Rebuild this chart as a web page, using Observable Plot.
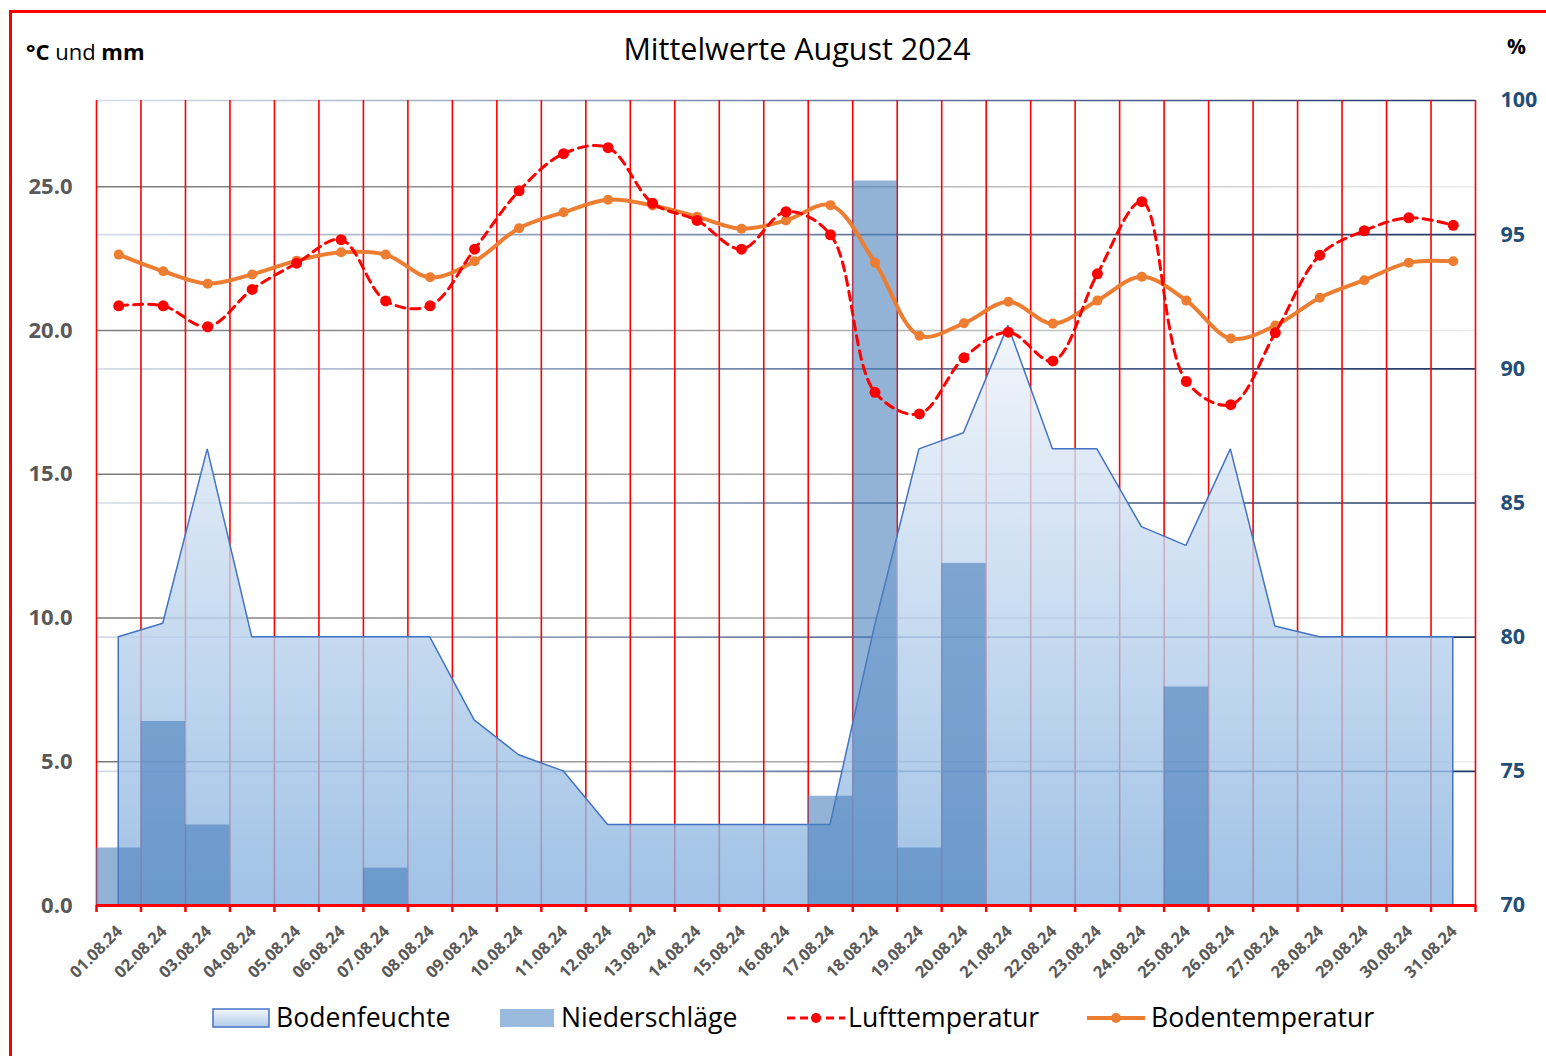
<!DOCTYPE html>
<html>
<head>
<meta charset="utf-8">
<script src="https://cdn.jsdelivr.net/npm/d3@7"></script>
<script src="https://cdn.jsdelivr.net/npm/@observablehq/plot@0.6"></script>
<style>
  html, body { margin: 0; padding: 0; background: #fff; overflow: hidden; }
  #wrap { position: relative; width: 1546px; height: 1056px; overflow: hidden; font-family: "Open Sans", sans-serif; }
  #border { position: absolute; left: 9px; top: 10px; width: 1600px; height: 1100px; border: 3px solid #ff0000; box-sizing: border-box; }
  .hdr { position: absolute; white-space: nowrap; color: #000; line-height: 1; }
  #unitL { left: 26px; top: 40px; font-size: 22px; }
  #title { left: 0; width: 1594px; text-align: center; top: 33px; font-size: 30.5px; }
  #unitR { left: 1507px; top: 36px; font-size: 21px; font-weight: bold; }
  #chart { position: absolute; left: 0; top: 80px; }
  .leg { position: absolute; top: 1000px; font-size: 26.6px; line-height: 34px; white-space: nowrap; color: #000; }
  .sw { position: absolute; }
</style>
</head>
<body>
<div id="wrap">
  <div id="border"></div>
  <div class="hdr" id="unitL"><b>°C</b> und <b>mm</b></div>
  <div class="hdr" id="title">Mittelwerte August 2024</div>
  <div class="hdr" id="unitR">%</div>
  <div id="chart"></div>

  <svg class="sw" style="left:211px;top:1007px" width="62" height="24">
    <defs><linearGradient id="lgA" x1="0" y1="0" x2="0" y2="1"><stop offset="0" stop-color="#f2f6fb"/><stop offset="1" stop-color="#b3cce9"/></linearGradient></defs>
    <rect x="2" y="2" width="56" height="18" fill="url(#lgA)" stroke="#4472c4" stroke-width="1.5"/>
  </svg>
  <div class="leg" style="left:276px">Bodenfeuchte</div>

  <svg class="sw" style="left:498px;top:1007px" width="60" height="24">
    <rect x="2" y="2" width="54" height="18" fill="#9bbbde"/>
  </svg>
  <div class="leg" style="left:561px">Niederschläge</div>

  <svg class="sw" style="left:785px;top:1006px" width="62" height="24">
    <line x1="2" y1="12" x2="60" y2="12" stroke="#ff0000" stroke-width="3" stroke-dasharray="8,5"/>
    <circle cx="31" cy="12" r="5" fill="#ff0000"/>
  </svg>
  <div class="leg" style="left:848px">Lufttemperatur</div>

  <svg class="sw" style="left:1085px;top:1006px" width="62" height="24">
    <line x1="2" y1="12" x2="60" y2="12" stroke="#ed7d31" stroke-width="4"/>
    <circle cx="31" cy="12" r="5" fill="#ed7d31"/>
  </svg>
  <div class="leg" style="left:1151px">Bodentemperatur</div>
</div>

<script>
// ---------------- data ----------------
const dayLabels = ["01.08.24","02.08.24","03.08.24","04.08.24","05.08.24","06.08.24","07.08.24","08.08.24",
  "09.08.24","10.08.24","11.08.24","12.08.24","13.08.24","14.08.24","15.08.24","16.08.24","17.08.24",
  "18.08.24","19.08.24","20.08.24","21.08.24","22.08.24","23.08.24","24.08.24","25.08.24","26.08.24",
  "27.08.24","28.08.24","29.08.24","30.08.24","31.08.24"];
const dayNumbers = [1,2,3,4,5,6,7,8,9,10,11,12,13,14,15,16,17,18,19,20,21,22,23,24,25,26,27,28,29,30,31];

// Lufttemperatur (°C)
const lufttemperatur = [20.86,20.86,20.13,21.43,22.34,23.16,21.03,20.86,22.83,24.86,26.15,26.36,24.43,23.83,22.83,
  24.13,23.33,17.85,17.10,19.05,19.94,18.94,21.97,24.48,18.23,17.42,19.92,22.62,23.47,23.92,23.66];
// Bodentemperatur (°C)
const bodentemperatur = [22.64,22.06,21.63,21.95,22.43,22.72,22.64,21.85,22.41,23.56,24.11,24.55,24.35,23.96,23.54,
  23.83,24.36,22.36,19.82,20.25,21.00,20.24,21.04,21.87,21.04,19.72,20.17,21.14,21.75,22.36,22.41];
// Niederschläge (mm)
const niederschlaege = [2.0,6.4,2.8,0,0,0,1.3,0,0,0,0,0,0,0,0,0,3.8,25.2,2.0,11.9,0,0,0,0,7.6,0,0,0,0,0,0];
// Bodenfeuchte (%)
const bodenfeuchte = [80.0,80.5,87.0,80.0,80.0,80.0,80.0,80.0,76.9,75.6,75.0,73.0,73.0,73.0,73.0,73.0,73.0,
  80.4,87.0,87.6,91.6,87.0,87.0,84.1,83.4,87.0,80.4,80.0,80.0,80.0,80.0];

const leftTicks = [0, 5, 10, 15, 20, 25];
const rightTicks = [70, 75, 80, 85, 90, 95, 100];
const dayBoundaries = [0.5,1.5,2.5,3.5,4.5,5.5,6.5,7.5,8.5,9.5,10.5,11.5,12.5,13.5,14.5,15.5,16.5,17.5,18.5,
  19.5,20.5,21.5,22.5,23.5,24.5,25.5,26.5,27.5,28.5,29.5,30.5,31.5];

// ---------------- build ----------------
const leftDomain = [0, 28];
const rightDomain = [70, 100];
const toLeft = h => (h - rightDomain[0]) / (rightDomain[1] - rightDomain[0]) * (leftDomain[1] - leftDomain[0]) + leftDomain[0];

const rows = dayNumbers.map((d, i) => ({
  day: d, label: dayLabels[i],
  luft: lufttemperatur[i], boden: bodentemperatur[i],
  rain: niederschlaege[i], feuchte: bodenfeuchte[i]
}));

const W = 1546, H = 915, mL = 96, mR = 71, mT = 20, mB = 90;

const chart = Plot.plot({
  width: W, height: H,
  marginLeft: mL, marginRight: mR, marginTop: mT, marginBottom: mB,
  x: { domain: [0.5, 31.5], axis: null },
  y: { domain: leftDomain, axis: null },
  style: { fontFamily: "Open Sans, sans-serif", background: "transparent", overflow: "visible" },
  marks: [
    // gridlines
    Plot.ruleY(leftTicks.filter(v => v > 0), { stroke: "url(#gradL)", strokeWidth: 1.6 }),
    Plot.ruleY(rightTicks.filter(v => v > 70).map(toLeft), { stroke: "url(#gradR)", strokeWidth: 1.6 }),
    // red day separators
    Plot.ruleX(dayBoundaries, { stroke: "#ff0000", strokeWidth: 1.6 }),
    // Bodenfeuchte area
    Plot.areaY(rows, { x: "day", y1: 0, y2: d => toLeft(d.feuchte), fill: "url(#gradA)", fillOpacity: 0.8,
      stroke: "#4472c4", strokeWidth: 1.5, strokeLinejoin: "miter" }),
    // Niederschläge bars
    Plot.rectY(rows.filter(d => d.rain > 0), { x1: d => d.day - 0.5, x2: d => d.day + 0.5, y: "rain",
      fill: "#4a7ebb", fillOpacity: 0.6 }),
    // bottom axis line + ticks
    Plot.ruleY([0], { stroke: "#ff0000", strokeWidth: 3 }),
    Plot.axisX({ ticks: dayBoundaries, tickSize: 7, tickFormat: () => "", label: null, stroke: "#ff0000", strokeWidth: 2.5 }),
    // Bodentemperatur
    Plot.line(rows, { x: "day", y: "boden", stroke: "#ed7d31", strokeWidth: 4, curve: "catmull-rom" }),
    Plot.dot(rows, { x: "day", y: "boden", fill: "#ed7d31", r: 5 }),
    // Lufttemperatur
    Plot.line(rows, { x: "day", y: "luft", stroke: "#ff0000", strokeWidth: 3, strokeDasharray: "9,6", curve: "catmull-rom" }),
    Plot.dot(rows, { x: "day", y: "luft", fill: "#ff0000", r: 5.5 }),
    // left axis labels
    Plot.text(leftTicks, { y: d => d, frameAnchor: "left", text: d => d3.format(".1f")(d), textAnchor: "end",
      dx: -24, fontSize: 22, fontWeight: "bold", fill: "#595959", lineAnchor: "middle" }),
    // right axis labels
    Plot.text(rightTicks, { y: d => toLeft(d), frameAnchor: "right", text: d => String(d), textAnchor: "start",
      dx: 25, fontSize: 21.5, fontWeight: "bold", fill: "#1f4e79", lineAnchor: "middle" }),
    // x labels
    Plot.text(rows, { x: "day", y: 0, text: "label", rotate: -45, textAnchor: "end", lineAnchor: "middle",
      dx: 1, dy: 23, fontSize: 16.5, fontWeight: "bold", fill: "#595959" })
  ]
});

// gradients
const NS = "http://www.w3.org/2000/svg";
function grad(id, attrs, stops) {
  const g = document.createElementNS(NS, "linearGradient");
  g.setAttribute("id", id);
  for (const [k, v] of Object.entries(attrs)) g.setAttribute(k, v);
  for (const [o, c] of stops) {
    const s = document.createElementNS(NS, "stop");
    s.setAttribute("offset", o); s.setAttribute("stop-color", c);
    g.appendChild(s);
  }
  return g;
}
const defs = document.createElementNS(NS, "defs");
defs.appendChild(grad("gradL", { gradientUnits: "userSpaceOnUse", x1: mL, y1: 0, x2: W - mR, y2: 0 },
  [[0, "#7a7a7a"], [0.5, "#a8a8a8"], [1, "#ececec"]]));
defs.appendChild(grad("gradR", { gradientUnits: "userSpaceOnUse", x1: mL, y1: 0, x2: W - mR, y2: 0 },
  [[0, "#d6dde8"], [0.5, "#6d82a6"], [1, "#1f3864"]]));
defs.appendChild(grad("gradA", { x1: 0, y1: 0, x2: 0, y2: 1 },
  [[0, "#eef3fa"], [1, "#88b3e0"]]));
chart.insertBefore(defs, chart.firstChild);

document.getElementById("chart").appendChild(chart);
</script>
</body>
</html>
